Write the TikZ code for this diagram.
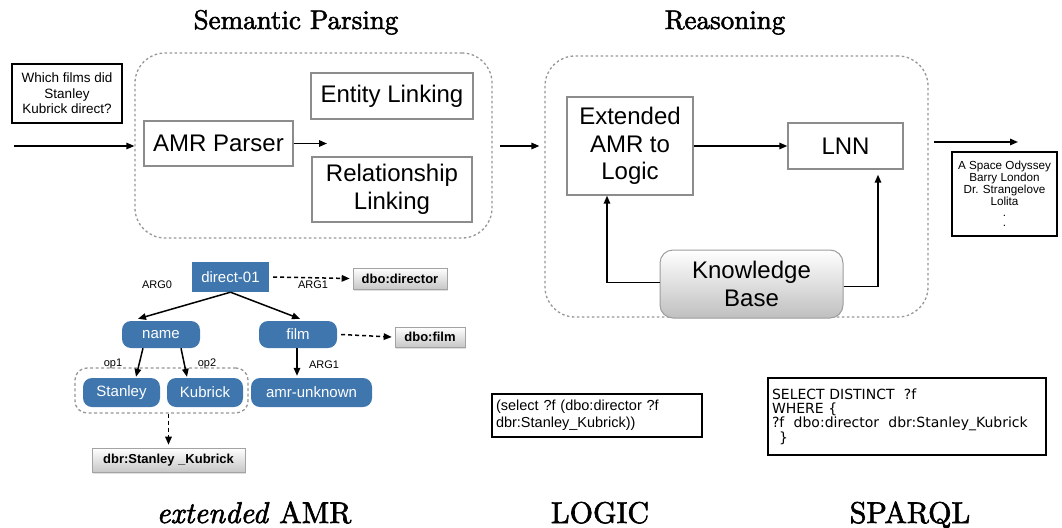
\documentclass[tikz,border=0pt]{standalone}
\usepackage{fontspec}
\usetikzlibrary{arrows.meta,shadows,calc}
\newfontfamily\hv{Liberation Sans}
\newfontfamily\dv{DejaVu Sans}
\newfontfamily\ttl{lmroman10-regular.otf}[ItalicFont=lmroman10-italic.otf,FakeBold=2]
\definecolor{amrblue}{RGB}{62,118,173}
\definecolor{boxgray}{RGB}{140,140,140}
\definecolor{dashgray}{RGB}{150,150,150}
\newcommand{\fs}[2]{\fontsize{#1}{#2}\selectfont}
\tikzset{
  arr/.style={line width=1.5pt,-{Triangle[length=8pt,width=6.5pt]}},
  darr/.style={line width=1.5pt,dash pattern=on 4pt off 3pt,-{Triangle[length=8pt,width=6.5pt]}},
  blkbox/.style={draw=black,line width=1.8pt,inner sep=0pt},
  graybox/.style={draw=boxgray,line width=1.4pt,inner sep=0pt,font=\hv\fs{24}{27.5},align=center},
  stage/.style={draw=dashgray,line width=1.3pt,dash pattern=on 2.5pt off 2.5pt,rounded corners=30pt,inner sep=0pt},
  amr/.style={fill=amrblue,text=white,inner sep=0pt,font=\hv\fs{15}{17}},
  amrr/.style={amr,rounded corners=9pt},
  kbox/.style={draw=boxgray!80,line width=0.6pt,top color=white,bottom color=black!22,
    inner sep=0pt,font=\hv\bfseries\fs{13}{15},
    drop shadow={opacity=0.25,shadow xshift=1pt,shadow yshift=-1.5pt}},
  lbl/.style={font=\hv\fs{11}{13},inner sep=0pt},
  title/.style={font=\ttl\fs{27}{30},anchor=base,inner sep=0pt},
  caption/.style={font=\ttl\fs{30}{34},anchor=base,inner sep=0pt}
}
\begin{document}
\begin{tikzpicture}[x=1pt,y=-1pt]
\useasboundingbox (0,0) rectangle (1062,527);

% section titles
\node[title] (tsp) at (296,29) {Semantic Parsing};
\node[title] (trs) at (725,29) {Reasoning};

% question
\node[blkbox,minimum width=110pt,minimum height=59pt,align=center,font=\hv\fs{13.5}{15.5}] (q) at (67,93.5)
  {Which films did\\Stanley\\Kubrick direct?};

% semantic parsing stage
\node[stage,minimum width=357pt,minimum height=185pt] (sp) at (313.5,145.5) {};
\node[graybox,minimum width=149pt,minimum height=45pt] (amrp) at (218.5,143.5) {AMR Parser};
\node[graybox,minimum width=162pt,minimum height=46pt] (ent) at (392,96) {Entity Linking};
\node[graybox,minimum width=160pt,minimum height=65pt] (rel) at (392,189.5) {Relationship\\Linking};

\coordinate (qin) at (14,146);
\draw[arr] (qin) -- (qin -| sp.west);
\coordinate (pend) at (327,143.5);
\draw[arr] (amrp.east) -- (pend);

% reasoning stage
\node[stage,minimum width=383pt,minimum height=261pt] (rs) at (736.5,186.5) {};
\node[graybox,minimum width=126pt,minimum height=98pt] (ext) at (630,146) {Extended\\AMR to\\Logic};
\node[graybox,minimum width=115pt,minimum height=46pt] (lnn) at (845.5,146) {LNN};
\node[draw=boxgray!85,line width=1pt,rounded corners=13pt,top color=white,bottom color=black!25,
  minimum width=183pt,minimum height=68pt,inner sep=0pt,align=center,font=\hv\fs{24}{28}] (kb) at (751.5,284) {Knowledge\\Base};

\coordinate (mid0) at (500,146);
\draw[arr] (mid0) -- (mid0 -| rs.west) [shorten >=5pt];
\draw[arr] (ext.east) -- (lnn.west);
\draw[arr] ([yshift=1.5pt]kb.west) -| ([xshift=-23pt]ext.south);
\draw[arr] ([yshift=-2.5pt]kb.east) -| ([xshift=32.5pt,yshift=-5pt]lnn.south);

% answers
\coordinate (out0) at (934,142);
\coordinate (out1) at (1018,142);
\draw[arr] (out0) -- (out1);
\node[blkbox,minimum width=105pt,minimum height=84pt,align=center,font=\hv\fs{11.7}{10.6}] (ans) at (1004.5,194)
  {A Space Odyssey\\Barry London\\Dr. Strangelove\\Lolita\\.\\.};

% extended AMR graph
\node[amr,minimum width=77pt,minimum height=30pt] (d01) at (230.5,277) {direct-01};
\node[kbox,minimum width=94pt,minimum height=21pt] (ddir) at (400,278.5) {dbo:director};
\node[amrr,minimum width=78pt,minimum height=27pt] (nm) at (161,334.5) {name};
\node[amrr,minimum width=78pt,minimum height=27pt] (film) at (298,334.5) {film};
\node[kbox,minimum width=70pt,minimum height=20pt] (dfilm) at (430,337) {dbo:film};
\node[amrr,minimum width=77pt,minimum height=29pt] (stan) at (121.5,392.5) {Stanley};
\node[amrr,minimum width=76pt,minimum height=29pt] (kub) at (205,392.5) {Kubrick};
\node[amrr,minimum width=121pt,minimum height=29pt] (unk) at (311.5,392.5) {amr-unknown};
\node[draw=dashgray,line width=1.3pt,dash pattern=on 3pt off 2.5pt,rounded corners=12pt,
  minimum width=173pt,minimum height=45pt,inner sep=0pt] (grp) at (161.5,390.5) {};
\node[kbox,minimum width=153pt,minimum height=24pt] (dbr) at (168.5,460) {dbr:Stanley \_Kubrick};

\draw[arr] (d01.south) -- ([xshift=-23pt,yshift=2pt]nm.north);
\draw[arr] (d01.south) -- ([xshift=2pt,yshift=2pt]film.north);
\draw[arr] ([xshift=-1pt]film.south) -- ([xshift=-1pt,yshift=2pt]film.south |- unk.north);
\draw[arr] ([xshift=-18pt]nm.south) -- ([xshift=14.5pt,yshift=1pt]stan.north);
\draw[arr] ([xshift=20pt]nm.south) -- ([xshift=-18pt,yshift=1pt]kub.north);
\draw[darr] ([xshift=4pt]d01.east) -- ([xshift=-3pt]ddir.west);
\draw[darr] ([xshift=4pt]film.east) -- ([xshift=-3pt]dfilm.west);
\draw[darr] (dbr.north |- grp.south) -- ([yshift=3pt]dbr.north);

\node[lbl] (a0) at (157,285) {ARG0};
\node[lbl] (a1) at (313,285) {ARG1};
\node[lbl] (a2) at (324,365) {ARG1};
\node[lbl] (o1) at (113,364) {op1};
\node[lbl] (o2) at (207,364) {op2};

% logic form
\node[blkbox,line width=1.6pt,minimum width=210pt,minimum height=43pt,text width=202pt,align=left,
  inner xsep=4pt,font=\hv\fs{14.5}{17}] (lf) at (597,415.5)
  {(select ?f (dbo:director ?f\\dbr:Stanley\_Kubrick))};

% SPARQL query
\node[blkbox,minimum width=278pt,minimum height=77pt,text width=270pt,align=left,
  inner xsep=4pt,font=\dv\fs{14}{14.3}] (sq) at (907,416.5)
  {SELECT DISTINCT~~?f\\WHERE \{\\?f~~dbo:director~~dbr:Stanley\_Kubrick\\\hspace*{7pt}\}};

% bottom captions
\node[caption] (c1) at (254,523) {\textit{extended} AMR};
\node[caption] (c2) at (600,523) {LOGIC};
\node[caption] (c3) at (910,523) {SPARQL};
\end{tikzpicture}
\end{document}
